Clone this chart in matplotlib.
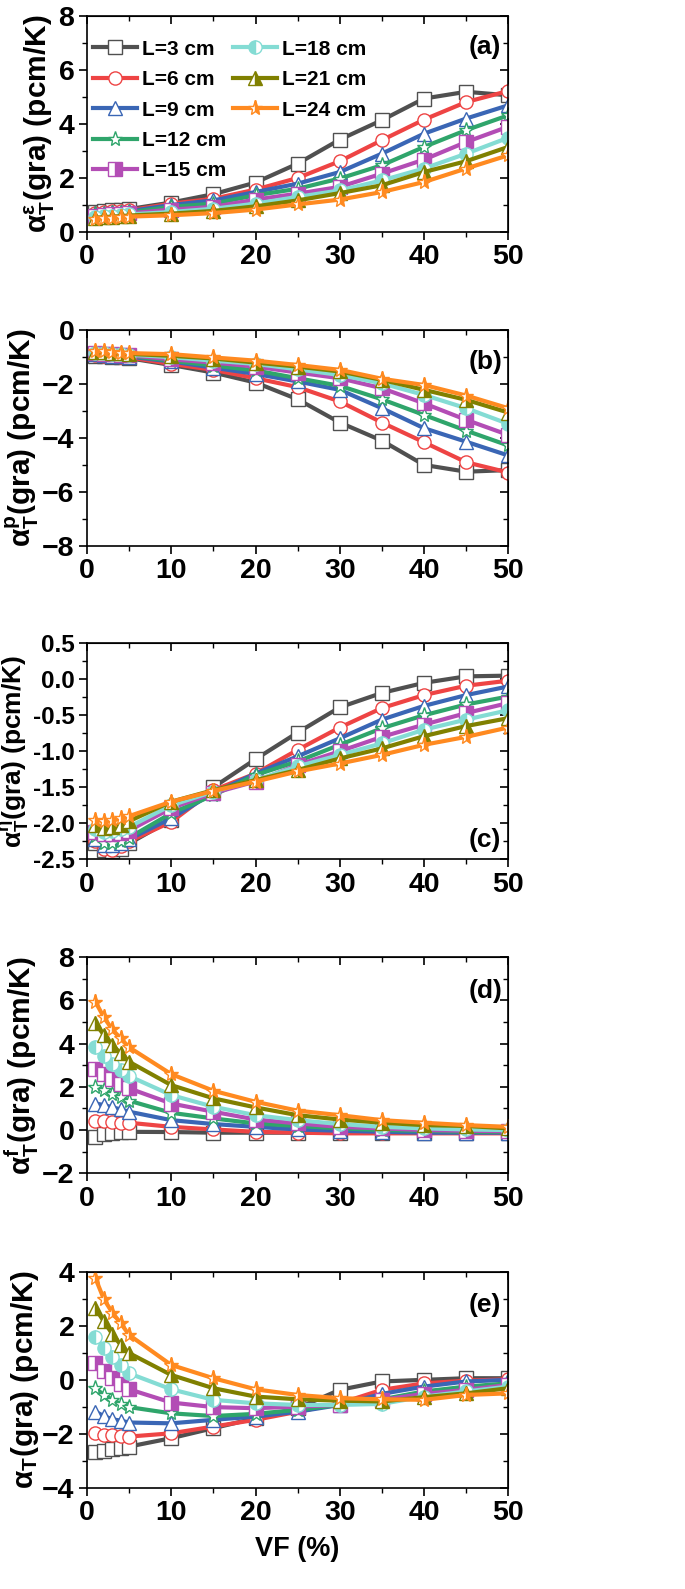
import matplotlib
matplotlib.use('Agg')
import matplotlib.pyplot as plt
from matplotlib.lines import Line2D
from matplotlib.ticker import MultipleLocator, FormatStrFormatter

plt.rcParams['font.family'] = ['Liberation Sans', 'DejaVu Sans']
plt.rcParams['font.weight'] = 'bold'
plt.rcParams['axes.labelweight'] = 'bold'
plt.rcParams['mathtext.default'] = 'regular'

# volume fraction (%)
vf = [1, 2, 3, 4, 5, 10, 15, 20, 25, 30, 35, 40, 45, 50]
lengths = ['L=3 cm', 'L=6 cm', 'L=9 cm', 'L=12 cm', 'L=15 cm', 'L=18 cm', 'L=21 cm', 'L=24 cm']

# (a) alpha_T^eps
a_eps = [
    [0.75, 0.78, 0.80, 0.82, 0.85, 1.09, 1.40, 1.83, 2.53, 3.42, 4.14, 4.94, 5.19, 5.06],
    [0.72, 0.74, 0.76, 0.78, 0.80, 1.05, 1.23, 1.57, 2.00, 2.62, 3.40, 4.16, 4.81, 5.22],
    [0.69, 0.71, 0.73, 0.75, 0.77, 1.00, 1.17, 1.48, 1.79, 2.22, 2.90, 3.64, 4.20, 4.69],
    [0.65, 0.67, 0.69, 0.71, 0.73, 0.93, 1.05, 1.36, 1.60, 1.98, 2.47, 3.15, 3.77, 4.32],
    [0.61, 0.63, 0.65, 0.67, 0.69, 0.83, 0.93, 1.20, 1.42, 1.67, 2.16, 2.68, 3.33, 3.90],
    [0.57, 0.59, 0.61, 0.63, 0.65, 0.74, 0.86, 1.05, 1.30, 1.54, 1.91, 2.35, 2.90, 3.49],
    [0.53, 0.55, 0.57, 0.59, 0.61, 0.68, 0.78, 0.95, 1.17, 1.44, 1.73, 2.22, 2.62, 3.15],
    [0.49, 0.51, 0.53, 0.55, 0.57, 0.62, 0.70, 0.83, 1.02, 1.20, 1.48, 1.85, 2.35, 2.84],
]

# (b) alpha_T^p
a_p = [
    [-0.95, -0.98, -1.00, -1.02, -1.05, -1.30, -1.58, -1.95, -2.57, -3.43, -4.10, -5.00, -5.25, -5.19],
    [-0.93, -0.96, -0.98, -1.00, -1.02, -1.26, -1.48, -1.79, -2.12, -2.65, -3.43, -4.16, -4.90, -5.28],
    [-0.90, -0.93, -0.95, -0.97, -0.99, -1.17, -1.40, -1.63, -1.91, -2.22, -2.90, -3.64, -4.14, -4.65],
    [-0.88, -0.90, -0.92, -0.94, -0.96, -1.14, -1.32, -1.50, -1.79, -2.07, -2.57, -3.15, -3.73, -4.28],
    [-0.86, -0.88, -0.90, -0.92, -0.94, -1.09, -1.21, -1.36, -1.58, -1.79, -2.16, -2.72, -3.33, -3.89],
    [-0.84, -0.86, -0.88, -0.90, -0.92, -1.01, -1.14, -1.26, -1.46, -1.67, -1.98, -2.41, -2.90, -3.48],
    [-0.81, -0.83, -0.85, -0.87, -0.89, -0.96, -1.06, -1.21, -1.36, -1.54, -1.85, -2.22, -2.59, -3.06],
    [-0.78, -0.80, -0.82, -0.84, -0.86, -0.90, -1.02, -1.14, -1.30, -1.48, -1.81, -2.04, -2.43, -2.90],
]

# (c) alpha_T^eta
a_eta = [
    [-2.28, -2.37, -2.39, -2.35, -2.28, -1.95, -1.50, -1.11, -0.74, -0.39, -0.19, -0.05, 0.04, 0.05],
    [-2.25, -2.36, -2.37, -2.32, -2.25, -1.98, -1.54, -1.31, -0.98, -0.67, -0.40, -0.22, -0.09, -0.02],
    [-2.22, -2.30, -2.30, -2.27, -2.22, -1.93, -1.58, -1.31, -1.07, -0.82, -0.56, -0.37, -0.22, -0.10],
    [-2.18, -2.28, -2.28, -2.24, -2.20, -1.86, -1.61, -1.33, -1.14, -0.91, -0.68, -0.50, -0.35, -0.24],
    [-2.12, -2.15, -2.15, -2.13, -2.10, -1.79, -1.58, -1.42, -1.19, -1.00, -0.80, -0.63, -0.47, -0.33],
    [-2.08, -2.12, -2.10, -2.08, -2.05, -1.75, -1.56, -1.40, -1.21, -1.05, -0.89, -0.70, -0.56, -0.43],
    [-2.03, -2.06, -2.05, -2.02, -1.97, -1.70, -1.54, -1.40, -1.26, -1.10, -0.96, -0.79, -0.65, -0.54],
    [-1.95, -1.97, -1.96, -1.93, -1.90, -1.70, -1.55, -1.42, -1.28, -1.17, -1.05, -0.91, -0.80, -0.67],
]

# (d) alpha_T^f
a_f = [
    [-0.31, -0.19, -0.12, -0.09, -0.08, -0.09, -0.12, -0.12, -0.12, -0.12, -0.12, -0.12, -0.12, -0.12],
    [0.43, 0.42, 0.39, 0.35, 0.34, 0.15, 0.03, -0.08, -0.12, -0.15, -0.15, -0.15, -0.15, -0.15],
    [1.23, 1.16, 1.05, 0.96, 0.85, 0.46, 0.28, 0.15, 0.03, -0.03, -0.08, -0.12, -0.12, -0.12],
    [2.00, 1.85, 1.67, 1.51, 1.36, 0.80, 0.54, 0.31, 0.19, 0.08, 0.00, -0.03, -0.08, -0.08],
    [2.85, 2.59, 2.35, 2.13, 1.93, 1.23, 0.85, 0.49, 0.31, 0.15, 0.08, 0.00, -0.03, -0.05],
    [3.83, 3.43, 3.06, 2.78, 2.50, 1.62, 1.08, 0.69, 0.46, 0.28, 0.15, 0.08, 0.03, 0.00],
    [4.94, 4.40, 3.94, 3.55, 3.16, 2.08, 1.47, 1.05, 0.69, 0.49, 0.34, 0.23, 0.19, 0.08],
    [5.94, 5.22, 4.66, 4.24, 3.83, 2.59, 1.82, 1.31, 0.90, 0.69, 0.46, 0.34, 0.23, 0.15],
]

# (e) alpha_T total
a_tot = [
    [-2.67, -2.63, -2.58, -2.54, -2.48, -2.17, -1.80, -1.43, -1.06, -0.38, -0.07, -0.01, 0.05, 0.05],
    [-1.99, -2.05, -2.07, -2.09, -2.11, -1.99, -1.74, -1.49, -1.19, -0.88, -0.38, -0.14, -0.04, 0.01],
    [-1.19, -1.35, -1.47, -1.52, -1.59, -1.62, -1.49, -1.37, -1.19, -0.94, -0.53, -0.26, -0.07, -0.01],
    [-0.32, -0.57, -0.75, -0.90, -1.02, -1.25, -1.35, -1.27, -1.12, -0.94, -0.73, -0.44, -0.26, -0.14],
    [0.60, 0.30, 0.05, -0.16, -0.36, -0.85, -1.02, -1.06, -1.00, -0.94, -0.75, -0.53, -0.38, -0.20],
    [1.59, 1.16, 0.83, 0.54, 0.23, -0.36, -0.75, -0.88, -0.94, -0.94, -0.90, -0.63, -0.44, -0.26],
    [2.64, 2.15, 1.69, 1.28, 0.98, 0.17, -0.32, -0.63, -0.73, -0.78, -0.81, -0.65, -0.51, -0.32],
    [3.75, 2.98, 2.48, 2.09, 1.65, 0.54, 0.05, -0.36, -0.57, -0.69, -0.73, -0.75, -0.57, -0.51],
]

colors = ['#505050', '#EE4444', '#3A66B5', '#2FA56B', '#B34DB5', '#84DCD4', '#808000', '#FF8A20']
markers = ['s', 'o', '^', '*', 's', 'o', '^', '*']
fills = ['none', 'none', 'none', 'none', 'right', 'left', 'right', 'right']

# data, y label, y range, major step, minor step, tag, tag y, label size, y tick size
panels = [
    (a_eps, r'$\alpha^{\epsilon}_{T}$(gra) (pcm/K)', (0, 8), 2, 1, '(a)', 0.855, 21.5, 20.5),
    (a_p, r'$\alpha^{p}_{T}$(gra) (pcm/K)', (-8, 0), 2, 1, '(b)', 0.852, 21.5, 20.5),
    (a_eta, r'$\alpha^{\eta}_{T}$(gra) (pcm/K)', (-2.5, 0.5), 0.5, 0.25, '(c)', 0.09, 19, 17.5),
    (a_f, r'$\alpha^{f}_{T}$(gra) (pcm/K)', (-2, 8), 2, 1, '(d)', 0.845, 21.5, 20.5),
    (a_tot, r'$\alpha_{T}$(gra) (pcm/K)', (-4, 4), 2, 1, '(e)', 0.846, 21.5, 20.5),
]

fig = plt.figure(figsize=(6.85, 15.89), dpi=100)
bottoms = [0.854, 0.6564, 0.4592, 0.2616, 0.0638]

for i, (data, ylab, ylim, ymaj, ymin, tag, tagy, ylsize, ytsize) in enumerate(panels):
    ax = fig.add_axes([0.127, bottoms[i], 0.615, 0.136])
    lines = []
    for k in range(len(lengths)):
        ms = 11 if markers[k] == '*' else 9.5
        if fills[k] == 'none':
            ln, = ax.plot(vf, data[k], color=colors[k], lw=3, marker=markers[k],
                          ms=ms, mfc='white', mec=colors[k], mew=1.0, label=lengths[k])
        else:
            ln, = ax.plot(vf, data[k], color=colors[k], lw=3, marker=markers[k],
                          ms=ms, fillstyle=fills[k], mfc=colors[k], mfcalt='white',
                          mec=colors[k], mew=1.0, label=lengths[k])
        lines.append(ln)
    ax.set_xlim(0, 50)
    ax.set_ylim(*ylim)
    ax.xaxis.set_major_locator(MultipleLocator(10))
    ax.xaxis.set_minor_locator(MultipleLocator(5))
    ax.yaxis.set_major_locator(MultipleLocator(ymaj))
    ax.yaxis.set_minor_locator(MultipleLocator(ymin))
    ax.tick_params(which='major', direction='out', length=6, width=1.2, labelsize=20.5, pad=3)
    ax.tick_params(which='minor', direction='out', length=3.5, width=1.0)
    ax.tick_params(axis='y', labelsize=ytsize)
    if tag == '(c)':
        ax.yaxis.set_major_formatter(FormatStrFormatter('%.1f'))
    # inward ticks on top / right
    sx = ax.secondary_xaxis('top')
    sx.xaxis.set_major_locator(MultipleLocator(10))
    sx.xaxis.set_minor_locator(MultipleLocator(5))
    sx.tick_params(which='major', direction='in', length=6, width=1.2, labeltop=False)
    sx.tick_params(which='minor', direction='in', length=3.5, width=1.0)
    sy = ax.secondary_yaxis('right')
    sy.yaxis.set_major_locator(MultipleLocator(ymaj))
    sy.yaxis.set_minor_locator(MultipleLocator(ymin))
    sy.tick_params(which='major', direction='in', length=6, width=1.2, labelright=False)
    sy.tick_params(which='minor', direction='in', length=3.5, width=1.0)
    for sp in ax.spines.values():
        sp.set_linewidth(1.2)
    ax.set_ylabel(ylab, fontsize=ylsize, labelpad=1)
    ax.text(0.945, tagy, tag, transform=ax.transAxes, ha='center', va='center', fontsize=19)
    if i == 0:
        blank = Line2D([], [], linestyle='none', marker='none')
        handles = lines + [blank, blank]
        labels = lengths + ['', '']
        ax.legend(handles, labels, ncol=2, loc='upper left', bbox_to_anchor=(0.014, 0.89),
                  frameon=False, fontsize=15, handlelength=2.1, handletextpad=0.25,
                  columnspacing=0.35, labelspacing=0.55, borderpad=0, borderaxespad=0)
    if i == 4:
        ax.set_xlabel('VF (%)', fontsize=19.5, labelpad=7)

fig.savefig('out.png', dpi=100)
